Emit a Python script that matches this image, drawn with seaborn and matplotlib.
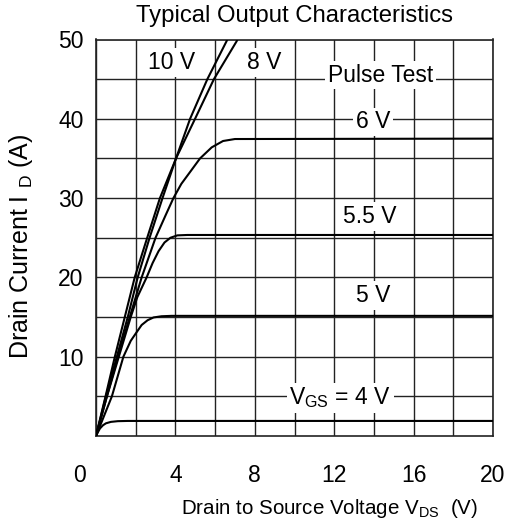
import numpy as np
import pandas as pd
import matplotlib
matplotlib.use("Agg")
import matplotlib.pyplot as plt
import matplotlib.transforms as mtransforms
import seaborn as sns

# ---- data ----
v_10 = [0, 0.5, 1.05, 1.6, 2.1, 2.7, 3.35, 4.03, 4.74, 5.61, 6.58, 6.7]
i_10 = [0, 5, 10, 15, 20, 25, 30, 35, 40, 45, 49.8, 50.5]

v_8 = [0, 0.48, 0.95, 1.45, 1.95, 2.58, 3.22, 4.03, 4.99, 5.94, 7.09, 7.2]
i_8 = [0, 5, 10, 15, 20, 25, 30, 35, 40, 45, 49.8, 50.5]

v_6 = [0, 0.55, 1.1, 1.7, 2.3, 3.0, 3.5, 3.9, 4.3, 4.8, 5.24, 5.83, 6.4, 7.0, 20]
i_6 = [0, 5, 10, 15, 20, 25, 27.8, 30, 31.8, 33.5, 35, 36.4, 37.2, 37.45, 37.5]

v_55 = [0, 0.55, 1.15, 1.75, 2.08, 2.55, 2.85, 3.15, 3.45, 3.75, 4.1, 4.6, 20]
i_55 = [0, 5, 10, 15, 17.5, 20, 21.8, 23.3, 24.4, 25.0, 25.3, 25.35, 25.35]

v_5 = [0, 0.8, 1.38, 1.75, 2.05, 2.3, 2.6, 2.9, 3.3, 3.8, 20]
i_5 = [0, 5, 10, 12.0, 13.1, 14.0, 14.6, 14.95, 15.1, 15.15, 15.15]

v_4 = [0, 0.1, 0.2, 0.35, 0.5, 0.75, 1.1, 1.6, 20]
i_4 = [0, 0.5, 0.95, 1.35, 1.6, 1.78, 1.87, 1.9, 1.9]

curve_names = ["10 V", "8 V", "6 V", "5.5 V", "5 V", "4 V"]
curve_v = [v_10, v_8, v_6, v_55, v_5, v_4]
curve_i = [i_10, i_8, i_6, i_55, i_5, i_4]

x_ticks = [0, 4, 8, 12, 16, 20]
y_ticks = [10, 20, 30, 40, 50]

labels = ["10 V", "8 V", "Pulse Test", "6 V", "5.5 V", "5 V",
          r"V$_{\mathrm{GS}}$ = 4 V"]
label_x = [3.8, 8.45, 14.35, 13.95, 13.8, 13.95, 12.3]
label_y = [47.1, 47.1, 45.5, 39.6, 27.7, 17.7, 4.8]

# ---- style ----
sns.set_theme(style="white")
plt.rcParams["font.family"] = ["Liberation Sans", "DejaVu Sans"]
plt.rcParams["mathtext.fontset"] = "custom"
plt.rcParams["mathtext.rm"] = "Liberation Sans"
plt.rcParams["mathtext.it"] = "Liberation Sans:italic"
plt.rcParams["mathtext.bf"] = "Liberation Sans:bold"
for k in ["text.color", "axes.labelcolor", "xtick.color", "ytick.color"]:
    plt.rcParams[k] = "black"

FS = 16.5
fig = plt.figure(figsize=(5.07, 5.26), dpi=100)
ax = fig.add_axes([96 / 507, 1 - 436 / 526, 397 / 507, 396.5 / 526])

frames = []
for n, v, i in zip(curve_names, curve_v, curve_i):
    frames.append(pd.DataFrame({"V": v, "I": i, "curve": n}))
df = pd.concat(frames, ignore_index=True)

for n in curve_names:
    sub = df[df["curve"] == n]
    sns.lineplot(data=sub, x="V", y="I", ax=ax, color="black", lw=1.5,
                 sort=False, estimator=None, zorder=5)

ax.set_xlim(0, 20)
ax.set_ylim(0, 50)
ax.set_xticks(x_ticks)
ax.set_xticks([2, 6, 10, 14, 18], minor=True)
ax.set_yticks(y_ticks)
ax.set_yticks([5, 15, 25, 35, 45], minor=True)
ax.set_xticklabels([str(t) for t in x_ticks], fontsize=FS)
ax.set_yticklabels([str(t) for t in y_ticks], fontsize=FS)
ax.tick_params(which="both", length=0)
ax.tick_params(axis="x", pad=20)
ax.tick_params(axis="y", pad=9)
ax.grid(True, which="both", color="#222222", lw=1.0)
ax.set_axisbelow(True)
for s in ax.spines.values():
    s.set_color("#222222")
    s.set_linewidth(1.2)

# shift the "0" x label left
offset = mtransforms.ScaledTranslation(-16 / 100, 0, fig.dpi_scale_trans)
lab0 = ax.get_xticklabels()[0]
lab0.set_transform(lab0.get_transform() + offset)

ax.set_xlabel("")
ax.set_ylabel("")
fig.text(330 / 507, 1 - 508 / 526,
         r"Drain to Source Voltage V$_{\mathrm{DS}}$  (V)",
         ha="center", va="center", fontsize=14.8)
fig.text(21 / 507, 1 - 246 / 526, r"Drain Current I $_{\mathrm{D}}$ (A)",
         ha="center", va="center", rotation=90, fontsize=18)
fig.text(295 / 507, 1 - 16 / 526, "Typical Output Characteristics",
         ha="center", va="center", fontsize=17.2)

for t, x, y in zip(labels, label_x, label_y):
    ax.text(x, y, t, ha="center", va="center", fontsize=FS, zorder=4,
            bbox=dict(facecolor="white", edgecolor="none", pad=2))

fig.savefig("out.png", dpi=100)
